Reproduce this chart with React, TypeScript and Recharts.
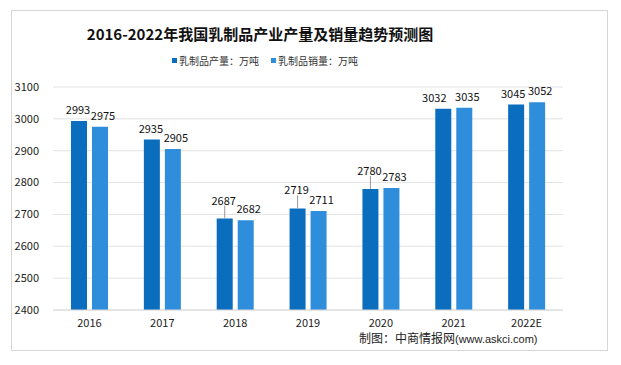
import { BarChart, Bar, XAxis, YAxis, CartesianGrid, LabelList } from "recharts";

const YEARS = ["2016", "2017", "2018", "2019", "2020", "2021", "2022E"];
const OUTPUT = [2993, 2935, 2687, 2719, 2780, 3032, 3045];
const SALES = [2975, 2905, 2682, 2711, 2783, 3035, 3052];
const Y_TICKS = [2400, 2500, 2600, 2700, 2800, 2900, 3000, 3100];

const DARK = "#0B6DBE";
const LIGHT = "#2E8EDB";
const FONT = "'Noto Sans CJK SC', 'Liberation Sans', sans-serif";

// dark labels that sit higher with a small leader line
const LIFTED = new Set([2, 3, 4]);
// dark labels nudged left so they clear the neighbour
const NUDGED = new Set([5, 6]);

const data = YEARS.map((year, i) => ({ year, output: OUTPUT[i], sales: SALES[i] }));

function makeLabel(kind: "output" | "sales") {
  return (props: any) => {
    const { x, y, width, value, index } = props;
    const barMid = Number(x) + Number(width) / 2;
    let dx = kind === "sales" ? 3 : -1;
    if (kind === "output" && NUDGED.has(index)) dx = index === 5 ? -9 : -3;
    const cx = barMid + dx;
    const lifted = kind === "output" && LIFTED.has(index);
    const lift = lifted ? 19 : 12;
    return (
      <g>
        {lifted && (
          <line x1={barMid} y1={Number(y)} x2={barMid} y2={Number(y) - lift + 6} stroke="#999" strokeWidth={1} />
        )}
        <text
          x={cx}
          y={Number(y) - lift}
          textAnchor="middle"
          dominantBaseline="central"
          fontSize={11}
          fill="#111"
          fontFamily={FONT}
        >
          {value}
        </text>
      </g>
    );
  };
}

export default function App() {
  return (
    <div style={{ position: "relative", left: -8, top: -8, width: 621, height: 365, background: "#fff", fontFamily: FONT }}>
      <div
        style={{
          position: "absolute",
          left: 11,
          top: 10,
          width: 597,
          height: 341,
          border: "1px solid #D6D6D6",
          boxSizing: "border-box",
        }}
      />
      <div
        style={{
          position: "absolute",
          left: 0,
          top: 23,
          width: 520,
          textAlign: "center",
          fontSize: 15,
          fontWeight: 700,
          color: "#111",
        }}
      >
        2016-2022年我国乳制品产业产量及销量趋势预测图
      </div>
      <div
        style={{
          position: "absolute",
          left: 172,
          top: 53,
          display: "flex",
          gap: 12,
          fontSize: 10,
          color: "#333",
        }}
      >
        <span style={{ display: "flex", alignItems: "center", gap: 2 }}>
          <span style={{ width: 5, height: 5, background: DARK, display: "inline-block" }} />
          乳制品产量：万吨
        </span>
        <span style={{ display: "flex", alignItems: "center", gap: 2 }}>
          <span style={{ width: 5, height: 5, background: LIGHT, display: "inline-block" }} />
          乳制品销量：万吨
        </span>
      </div>
      <div style={{ position: "absolute", left: 0, top: 0 }}>
        <BarChart
          width={621}
          height={365}
          data={data}
          margin={{ top: 87, right: 58, left: 13, bottom: 25 }}
          barCategoryGap={18}
          barGap={5}
        >
          <CartesianGrid vertical={false} stroke="#E3E3E3" />
          <XAxis
            dataKey="year"
            tickLine={false}
            axisLine={{ stroke: "#D9D9D9" }}
            tick={{ fontSize: 11, fill: "#222", fontFamily: FONT }}
            tickMargin={3}
            height={30}
          />
          <YAxis
            domain={[2400, 3100]}
            ticks={Y_TICKS}
            width={40}
            tickLine={false}
            axisLine={false}
            tick={{ fontSize: 11, fill: "#222", fontFamily: FONT }}
            tickMargin={8}
            interval={0}
          />
          <Bar dataKey="output" fill={DARK} isAnimationActive={false}>
            <LabelList dataKey="output" content={makeLabel("output")} />
          </Bar>
          <Bar dataKey="sales" fill={LIGHT} isAnimationActive={false}>
            <LabelList dataKey="sales" content={makeLabel("sales")} />
          </Bar>
        </BarChart>
      </div>
      <div
        style={{
          position: "absolute",
          left: 359,
          top: 331,
          fontSize: 12,
          lineHeight: "14px",
          color: "#222",
          whiteSpace: "nowrap",
        }}
      >
        制图：中商情报网<span style={{ fontFamily: "'Liberation Sans', sans-serif", fontSize: 11 }}>(www.askci.com)</span>
      </div>
    </div>
  );
}
